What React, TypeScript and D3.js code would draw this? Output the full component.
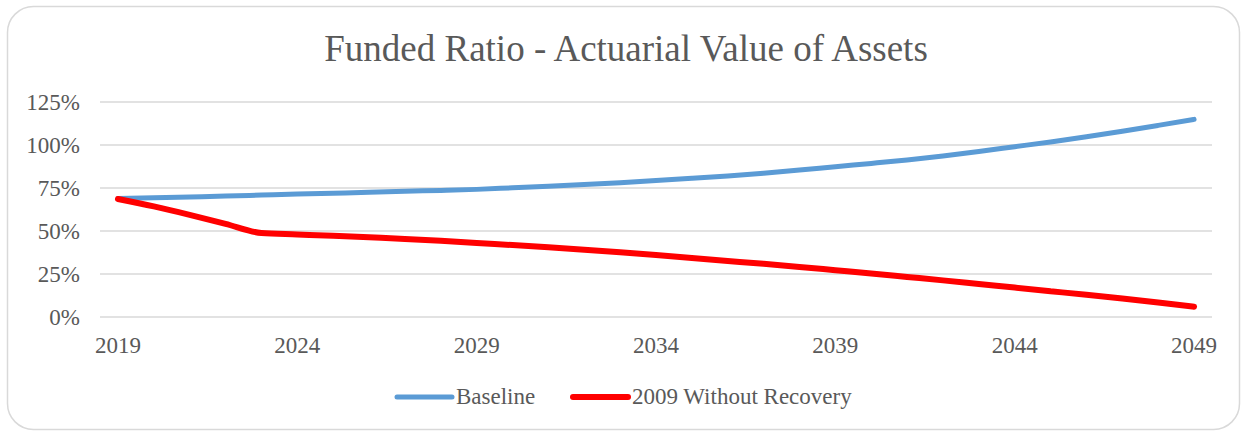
import React from "react";
import * as d3 from "d3";

const years = d3.range(2019, 2050).map(String);
const tickYears = ["2019", "2024", "2029", "2034", "2039", "2044", "2049"];
const yTicks = [0, 0.25, 0.5, 0.75, 1, 1.25];

const baseline = [
  0.689, 0.693, 0.698, 0.703, 0.709, 0.715, 0.72, 0.725, 0.731, 0.736,
  0.742, 0.751, 0.76, 0.77, 0.781, 0.793, 0.806, 0.82, 0.836, 0.854,
  0.874, 0.893, 0.913, 0.936, 0.962, 0.99, 1.018, 1.048, 1.08, 1.114,
  1.149
];

const noRecovery = [
  0.686, 0.643, 0.594, 0.541, 0.488, 0.48, 0.472, 0.463, 0.454, 0.443,
  0.43, 0.418, 0.405, 0.391, 0.376, 0.36, 0.343, 0.326, 0.309, 0.291,
  0.272, 0.253, 0.233, 0.213, 0.192, 0.171, 0.15, 0.129, 0.107, 0.084,
  0.06
];

const series = [
  { name: "Baseline", values: baseline, color: "#5B9BD5", width: 5 },
  { name: "2009 Without Recovery", values: noRecovery, color: "#FF0000", width: 6 }
];

const W = 1244;
const H = 433;
const font = "'Liberation Serif', 'Times New Roman', serif";
const textColor = "#595959";

const App = () => {
  const x = d3.scalePoint().domain(years).range([100, 1212]).padding(0.5);
  const y = d3.scaleLinear().domain([0, 1.25]).range([317, 102]);

  const line = d3
    .line<number>()
    .x((_, i) => x(years[i]) as number)
    .y((d) => y(d))
    .curve(d3.curveMonotoneX);

  const pct = d3.format(".0%");

  return (
    <svg
      width={W}
      height={H}
      style={{ position: "absolute", left: 0, top: 0 }}
      xmlns="http://www.w3.org/2000/svg"
    >
      <rect x={0} y={0} width={W} height={H} fill="#fff" />
      <rect
        x={7.5}
        y={6.5}
        width={1232}
        height={423}
        rx={26}
        fill="#fff"
        stroke="#d9d9d9"
        strokeWidth={1.5}
      />
      <text
        x={626}
        y={61}
        textAnchor="middle"
        fontFamily={font}
        fontSize={37}
        fill={textColor}
      >
        Funded Ratio - Actuarial Value of Assets
      </text>

      <g className="grid">
        {yTicks.map((t) => (
          <g key={t}>
            <line
              x1={100}
              x2={1212}
              y1={y(t)}
              y2={y(t)}
              stroke="#d9d9d9"
              strokeWidth={1.5}
            />
            <text
              x={80}
              y={y(t) + 8}
              textAnchor="end"
              fontFamily={font}
              fontSize={23}
              fill={textColor}
            >
              {pct(t)}
            </text>
          </g>
        ))}
      </g>

      <g className="x-axis">
        {tickYears.map((t) => (
          <text
            key={t}
            x={x(t)}
            y={353}
            textAnchor="middle"
            fontFamily={font}
            fontSize={23}
            fill={textColor}
          >
            {t}
          </text>
        ))}
      </g>

      <g className="lines">
        {series.map((s) => (
          <path
            key={s.name}
            d={line(s.values) || ""}
            fill="none"
            stroke={s.color}
            strokeWidth={s.width}
            strokeLinecap="round"
            strokeLinejoin="round"
          />
        ))}
      </g>

      <g className="legend">
        {[
          { s: series[0], x0: 397 },
          { s: series[1], x0: 573 }
        ].map(({ s, x0 }) => (
          <g key={s.name}>
            <line
              x1={x0}
              x2={x0 + 55}
              y1={397}
              y2={397}
              stroke={s.color}
              strokeWidth={s.width}
              strokeLinecap="round"
            />
            <text
              x={x0 + 59}
              y={404}
              fontFamily={font}
              fontSize={23}
              fill={textColor}
            >
              {s.name}
            </text>
          </g>
        ))}
      </g>
    </svg>
  );
};

export default App;
